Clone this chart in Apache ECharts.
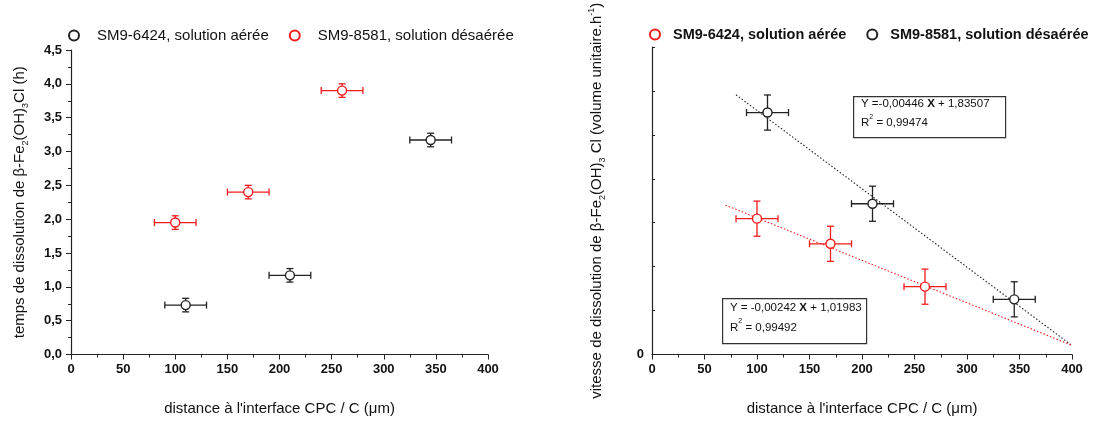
<!DOCTYPE html>
<html><head><meta charset="utf-8">
<script src="https://cdn.jsdelivr.net/npm/echarts@6/dist/echarts.min.js"></script>
<style>html,body{margin:0;padding:0;background:#fff}#c{width:1094px;height:421px}</style>
</head><body><div id="c"></div>
<script>
// ---- data ----
const leftBlackX = [110, 210, 345];
const leftBlackY = [0.73, 1.17, 3.17];
const leftRedX = [100, 170, 260];
const leftRedY = [1.95, 2.40, 3.90];
const rightRedX = [100, 170, 260];
const rightRedY = [0.773, 0.630, 0.386];
const rightBlackX = [110, 210, 345];
const rightBlackY = [1.377, 0.858, 0.314];
const errX = 20;
const errYLeft = 0.1;
const errYRight = 0.1;
const fitBlackX = [80, 400];
const fitBlackY = [1.478, 0.051];
const fitRedX = [70, 400];
const fitRedY = [0.850, 0.052];
const legendLeftLabels = ['SM9-6424, solution aérée', 'SM9-8581, solution désaérée'];
const legendRightLabels = ['SM9-6424, solution aérée', 'SM9-8581, solution désaérée'];
const fitBlackText = ['Y =-0,00446 ', 'X', ' + 1,83507', 'R', '2', ' = 0,99474'];
const fitRedText = ['Y = -0,00242 ', 'X', ' + 1,01983', 'R', '2', ' = 0,99492'];

const BLACK = '#222';
const RED = '#f21c1c';
const FONT = 'Liberation Sans';

function pts(xs, ys) { return xs.map((x, i) => [x, ys[i]]); }
function errData(xs, ys, ex, ey) { return xs.map((x, i) => [x, ys[i], ex, ey]); }

function errRender(color) {
  return function (params, api) {
    const x = api.value(0), y = api.value(1), ex = api.value(2), ey = api.value(3);
    const l = api.coord([x - ex, y]), r = api.coord([x + ex, y]);
    const t = api.coord([x, y + ey]), b = api.coord([x, y - ey]);
    const st = { stroke: color, lineWidth: 1.3 };
    const c = 3.5;
    return {
      type: 'group',
      children: [
        { type: 'line', shape: { x1: l[0], y1: l[1], x2: r[0], y2: r[1] }, style: st },
        { type: 'line', shape: { x1: l[0], y1: l[1] - c, x2: l[0], y2: l[1] + c }, style: st },
        { type: 'line', shape: { x1: r[0], y1: r[1] - c, x2: r[0], y2: r[1] + c }, style: st },
        { type: 'line', shape: { x1: t[0], y1: t[1], x2: b[0], y2: b[1] }, style: st },
        { type: 'line', shape: { x1: t[0] - c, y1: t[1], x2: t[0] + c, y2: t[1] }, style: st },
        { type: 'line', shape: { x1: b[0] - c, y1: b[1], x2: b[0] + c, y2: b[1] }, style: st }
      ]
    };
  };
}

const axisLineStyle = { show: true, lineStyle: { color: BLACK, width: 1.2 } };
const tickLabel = { color: '#111', fontFamily: FONT, fontWeight: 'bold', fontSize: 13 };
const nameRich = {
  t: { fontFamily: FONT, fontSize: 15, color: '#111', lineHeight: 20 },
  s: { fontFamily: FONT, fontSize: 9, color: '#111', verticalAlign: 'bottom', lineHeight: 9 },
  p: { fontFamily: FONT, fontSize: 9, color: '#111', verticalAlign: 'top', lineHeight: 9 }
};

function xAxis(gridIndex) {
  return {
    type: 'value', gridIndex, min: 0, max: 400, interval: 50,
    axisLine: axisLineStyle,
    axisTick: { show: true, length: 5, lineStyle: { color: BLACK } },
    minorTick: { show: true, splitNumber: 2, length: 3, lineStyle: { color: BLACK } },
    splitLine: { show: false },
    axisLabel: Object.assign({ margin: 8 }, tickLabel),
    name: '{t|distance à l\'interface CPC / C (μm)}',
    nameLocation: 'middle', nameGap: 44,
    nameTextStyle: { rich: nameRich }
  };
}

const option = {
  animation: false,
  backgroundColor: '#fff',
  grid: [
    { left: 71, top: 50, width: 417, height: 307 },
    { left: 652, top: 47, width: 420, height: 310 }
  ],
  legend: [
    {
      data: ['L1', 'L2'], left: 63, top: 23, width: 500, itemWidth: 10, itemHeight: 10, itemGap: 20,
      formatter: n => legendLeftLabels[n === 'L1' ? 0 : 1],
      textStyle: { fontFamily: FONT, fontSize: 15, color: '#111', padding: [0, 0, 0, 13] },
      selectedMode: false
    },
    {
      data: ['R1', 'R2'], left: 644, top: 22, width: 480, itemWidth: 10, itemHeight: 10, itemGap: 20,
      formatter: n => legendRightLabels[n === 'R1' ? 0 : 1],
      textStyle: { fontFamily: FONT, fontSize: 14.5, fontWeight: 'bold', color: '#111', padding: [0, 0, 0, 8] },
      selectedMode: false
    }
  ],
  xAxis: [xAxis(0), xAxis(1)],
  yAxis: [
    {
      type: 'value', gridIndex: 0, min: 0, max: 4.5, interval: 0.5,
      axisLine: axisLineStyle,
      axisTick: { show: true, length: 5, lineStyle: { color: BLACK } },
      minorTick: { show: true, splitNumber: 2, length: 3, lineStyle: { color: BLACK } },
      splitLine: { show: false },
      axisLabel: Object.assign({ margin: 9, formatter: v => v.toFixed(1).replace('.', ',') }, tickLabel),
      name: '{t|temps de dissolution de β-Fe}{s|2}{t|(OH)}{s|3}{t|Cl (h)}',
      nameLocation: 'middle', nameGap: 41, nameRotate: 90,
      nameTextStyle: { rich: nameRich }
    },
    {
      type: 'value', gridIndex: 1, min: 0, max: 1.75, interval: 0.25,
      axisLine: axisLineStyle,
      axisTick: { show: true, inside: true, length: 3, lineStyle: { color: BLACK } },
      splitLine: { show: false },
      axisLabel: Object.assign({ margin: 8, formatter: v => (v === 0 ? '0' : '') }, tickLabel),
      name: '{t|vitesse de dissolution de β-Fe}{s|2}{t|(OH)}{s|3}{t| Cl (volume unitaire.h}{p|-1}{t|)}',
      nameLocation: 'middle', nameGap: 45, nameRotate: 90,
      nameTextStyle: { rich: nameRich }
    }
  ],
  series: [
    // left
    { type: 'custom', xAxisIndex: 0, yAxisIndex: 0, renderItem: errRender(BLACK),
      data: errData(leftBlackX, leftBlackY, errX, errYLeft), encode: { x: 0, y: 1 }, z: 2 },
    { type: 'custom', xAxisIndex: 0, yAxisIndex: 0, renderItem: errRender(RED),
      data: errData(leftRedX, leftRedY, errX, errYLeft), encode: { x: 0, y: 1 }, z: 2 },
    { name: 'L1', type: 'scatter', xAxisIndex: 0, yAxisIndex: 0, symbol: 'circle', symbolSize: 9,
      itemStyle: { color: '#fff', borderColor: BLACK, borderWidth: 1.4, opacity: 1 },
      data: pts(leftBlackX, leftBlackY), z: 5 },
    { name: 'L2', type: 'scatter', xAxisIndex: 0, yAxisIndex: 0, symbol: 'circle', symbolSize: 9,
      itemStyle: { color: '#fff', borderColor: RED, borderWidth: 1.4, opacity: 1 },
      data: pts(leftRedX, leftRedY), z: 5 },
    // right fits
    { type: 'line', xAxisIndex: 1, yAxisIndex: 1, showSymbol: false, silent: true,
      lineStyle: { color: BLACK, width: 1.1, type: [1.5, 2] }, data: pts(fitBlackX, fitBlackY), z: 1 },
    { type: 'line', xAxisIndex: 1, yAxisIndex: 1, showSymbol: false, silent: true,
      lineStyle: { color: RED, width: 1.1, type: [1.5, 2] }, data: pts(fitRedX, fitRedY), z: 1 },
    // right error bars
    { type: 'custom', xAxisIndex: 1, yAxisIndex: 1, renderItem: errRender(RED),
      data: errData(rightRedX, rightRedY, errX, errYRight), encode: { x: 0, y: 1 }, z: 2 },
    { type: 'custom', xAxisIndex: 1, yAxisIndex: 1, renderItem: errRender(BLACK),
      data: errData(rightBlackX, rightBlackY, errX, errYRight), encode: { x: 0, y: 1 }, z: 2 },
    { name: 'R1', type: 'scatter', xAxisIndex: 1, yAxisIndex: 1, symbol: 'circle', symbolSize: 9,
      itemStyle: { color: '#fff', borderColor: RED, borderWidth: 1.4, opacity: 1 },
      data: pts(rightRedX, rightRedY), z: 5 },
    { name: 'R2', type: 'scatter', xAxisIndex: 1, yAxisIndex: 1, symbol: 'circle', symbolSize: 9,
      itemStyle: { color: '#fff', borderColor: BLACK, borderWidth: 1.4, opacity: 1 },
      data: pts(rightBlackX, rightBlackY), z: 5 }
  ],
  graphic: [
    { type: 'rect', left: 853, top: 96, shape: { width: 152, height: 41 },
      style: { fill: '#fff', stroke: '#333', lineWidth: 1.2 }, z: 10 },
    { type: 'text', left: 861, top: 98, z: 11,
      style: {
        text: '{a|' + fitBlackText[0] + '}{b|' + fitBlackText[1] + '}{a|' + fitBlackText[2] + '}\n{a|' + fitBlackText[3] + '}{s|' + fitBlackText[4] + '}{a|' + fitBlackText[5] + '}',
        rich: {
          a: { fontFamily: FONT, fontSize: 11.5, fill: '#111', lineHeight: 19 },
          b: { fontFamily: FONT, fontSize: 11.5, fontWeight: 'bold', fill: '#111', lineHeight: 19 },
          s: { fontFamily: FONT, fontSize: 7, fill: '#111', verticalAlign: 'top', lineHeight: 12 }
        }
      } },
    { type: 'rect', left: 722, top: 298, shape: { width: 144, height: 45 },
      style: { fill: '#fff', stroke: '#333', lineWidth: 1.2 }, z: 10 },
    { type: 'text', left: 730, top: 302, z: 11,
      style: {
        text: '{a|' + fitRedText[0] + '}{b|' + fitRedText[1] + '}{a|' + fitRedText[2] + '}\n{a|' + fitRedText[3] + '}{s|' + fitRedText[4] + '}{a|' + fitRedText[5] + '}',
        rich: {
          a: { fontFamily: FONT, fontSize: 11.5, fill: '#111', lineHeight: 20 },
          b: { fontFamily: FONT, fontSize: 11.5, fontWeight: 'bold', fill: '#111', lineHeight: 20 },
          s: { fontFamily: FONT, fontSize: 7, fill: '#111', verticalAlign: 'top', lineHeight: 12 }
        }
      } }
  ]
};
const chart = echarts.init(document.getElementById('c'), null, { renderer: 'canvas' });
chart.setOption(option);
</script></body></html>
